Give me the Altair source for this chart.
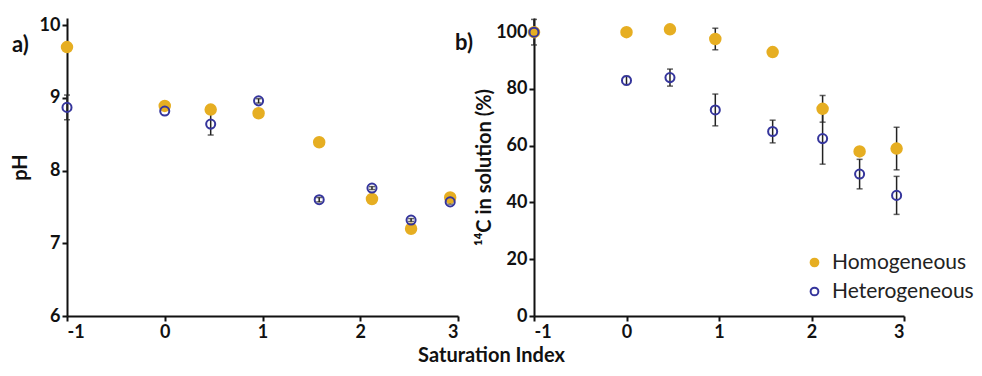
import altair as alt
import pandas as pd

# ---- data ----
x_vals = [-1, 0, 0.47, 0.96, 1.58, 2.12, 2.52, 2.92]
series_names = ["Homogeneous", "Heterogeneous"]

ph_homo = [9.70, 8.89, 8.84, 8.79, 8.39, 7.61, 7.20, 7.63]
ph_homo_err = [0, 0, 0, 0, 0, 0, 0, 0]
ph_hetero = [8.87, 8.82, 8.64, 8.96, 7.60, 7.76, 7.32, 7.57]
ph_hetero_err = [0.17, 0.0, 0.15, 0.03, 0.03, 0.02, 0.02, 0.03]

c14_homo = [100, 100, 101, 97.6, 93, 73, 58, 59]
c14_homo_err = [0, 0, 0, 3.8, 0, 4.7, 0, 7.5]
c14_hetero = [100, 83, 84, 72.6, 65, 62.5, 50, 42.5]
c14_hetero_err = [4.5, 1.5, 3, 5.6, 4, 9, 5.2, 6.7]

x_ticks = [-1, 0, 1, 2, 3]
ph_ticks = [6, 7, 8, 9, 10]
c14_ticks = [0, 20, 40, 60, 80, 100]

GOLD = "#E6AE22"
BLUE = "#35359C"
FONT = "Lato"
H = 298


def build(values_homo, err_homo, values_het, err_het):
    rows = []
    for s, vals, errs in [("Homogeneous", values_homo, err_homo),
                          ("Heterogeneous", values_het, err_het)]:
        for x, v, e in zip(x_vals, vals, errs):
            rows.append({"x": x, "series": s, "value": v, "err": e,
                         "lo": v - e, "hi": v + e})
    return pd.DataFrame(rows)


df_a = build(ph_homo, ph_homo_err, ph_hetero, ph_hetero_err)
df_b = build(c14_homo, c14_homo_err, c14_hetero, c14_hetero_err)

stroke_scale = alt.Scale(domain=series_names, range=[GOLD, BLUE])
fill_scale = alt.Scale(domain=series_names, range=[GOLD, "transparent"])
legend = alt.Legend(title=None, orient="none", legendX=737, legendY=234,
                    labelFont=FONT, labelFontSize=21, labelColor="#222",
                    symbolSize=60, symbolStrokeWidth=2, rowPadding=7,
                    labelOffset=7)


def panel(df, ydomain, yticks, ytitle, tpad, xtitle, width, label_text, lx, ly):
    xax = alt.Axis(values=x_ticks,
                   labelExpr="datum.value < 0 ? '-' + abs(datum.value) : '' + datum.value",
                   title=xtitle if xtitle else None,
                   titleX=424, titleY=39.5, titleAlign="center", titleBaseline="middle")
    yax = alt.Axis(values=yticks, title=ytitle, titlePadding=tpad)
    xenc = alt.X("x:Q", scale=alt.Scale(domain=[-1, 3], nice=False, zero=False), axis=xax)
    ysc = alt.Scale(domain=ydomain, nice=False, zero=False)

    base = alt.Chart(df)
    errdf = base.transform_filter("datum.err > 0")
    rule = errdf.mark_rule(color="#222", strokeWidth=1.5).encode(
        x=xenc, y=alt.Y("lo:Q", scale=ysc, axis=yax), y2="hi:Q")
    cap_lo = errdf.mark_tick(color="#222", orient="horizontal", size=6, thickness=1.5).encode(
        x=xenc, y=alt.Y("lo:Q", scale=ysc, axis=yax))
    cap_hi = errdf.mark_tick(color="#222", orient="horizontal", size=6, thickness=1.5).encode(
        x=xenc, y=alt.Y("hi:Q", scale=ysc, axis=yax))

    def pts(name, size):
        return base.transform_filter(alt.datum.series == name).mark_point(
            size=size, strokeWidth=2, opacity=1, filled=False).encode(
            x=xenc, y=alt.Y("value:Q", scale=ysc, axis=yax),
            stroke=alt.Stroke("series:N", scale=stroke_scale, legend=legend),
            fill=alt.Fill("series:N", scale=fill_scale, legend=legend))

    label = alt.Chart(pd.DataFrame({"t": [label_text]})).mark_text(
        font=FONT, fontSize=22, fontWeight="bold", color="#111", align="center",
        baseline="middle").encode(text="t:N", x=alt.value(lx), y=alt.value(ly))

    return alt.layer(rule, cap_lo, cap_hi, pts("Homogeneous", 110),
                     pts("Heterogeneous", 82), label).properties(width=width, height=H)


a = panel(df_a, [6, 10.1], ph_ticks, "pH", 8.5, "Saturation Index", 391, "a)", -46.5, 27)
b = panel(df_b, [0, 105], c14_ticks, "¹⁴C in solution (%)", 1.5, None, 370, "b)", -70, 25)

chart = alt.hconcat(a, b, spacing=76, bounds="flush").properties(
    padding={"left": 2, "top": 8, "right": 0, "bottom": 0}
).configure_view(stroke=None).configure_axis(
    grid=False, domainColor="#111", domainWidth=2, tickColor="#111", tickWidth=2,
    tickSize=5, labelFont=FONT, labelFontSize=18, labelFontWeight="bold",
    labelColor="#111", titleFont=FONT, titleFontSize=20, titleFontWeight="bold",
    titleColor="#111", labelPadding=2
).configure_axisX(labelPadding=2)

chart.save("out.html", embed_options={"renderer": "svg", "actions": False})
